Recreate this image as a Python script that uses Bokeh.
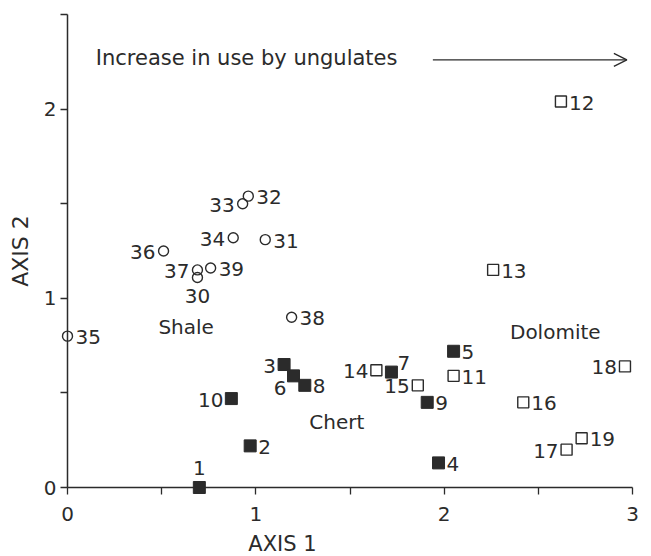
from bokeh.plotting import figure
from bokeh.models import ColumnDataSource, Range1d, FixedTicker, Arrow, OpenHead
from bokeh.core.properties import value
from bokeh.embed import file_html
from bokeh.resources import INLINE

# ---- data ----
chert_ids = ["1", "2", "3", "4", "5", "6", "7", "8", "9", "10"]
chert_x = [0.70, 0.97, 1.15, 1.97, 2.05, 1.20, 1.72, 1.26, 1.91, 0.87]
chert_y = [0.00, 0.22, 0.65, 0.13, 0.72, 0.59, 0.61, 0.54, 0.45, 0.47]
chert_pos = ["a", "r", "l", "r", "r", "bl", "ur", "r", "r", "l"]

dolomite_ids = ["11", "12", "13", "14", "15", "16", "17", "18", "19"]
dolomite_x = [2.05, 2.62, 2.26, 1.64, 1.86, 2.42, 2.65, 2.96, 2.73]
dolomite_y = [0.59, 2.04, 1.15, 0.62, 0.54, 0.45, 0.20, 0.64, 0.26]
dolomite_pos = ["r", "r", "r", "l", "l", "r", "l", "l", "r"]

shale_ids = ["30", "31", "32", "33", "34", "35", "36", "37", "38", "39"]
shale_x = [0.69, 1.05, 0.96, 0.93, 0.88, 0.00, 0.51, 0.69, 1.19, 0.76]
shale_y = [1.11, 1.31, 1.54, 1.50, 1.32, 0.80, 1.25, 1.15, 0.90, 1.16]
shale_pos = ["b", "r", "r", "l", "l", "r", "l", "l", "r", "r"]

region_names = ["Shale", "Chert", "Dolomite"]
region_x = [0.63, 1.43, 2.59]
region_y = [0.85, 0.345, 0.82]

arrow_text = "Increase in use by ungulates"
arrow_text_x = 0.15
arrow_text_y = 2.27
arrow_x_start, arrow_x_end, arrow_y = 1.94, 2.97, 2.26

x_ticks = [0, 1, 2, 3]
x_minor = [0.5, 1.5, 2.5]
y_ticks = [0, 1, 2]
y_minor = [0.5, 1.5, 2.5]
x_title = "AXIS 1"
x_title_at = 0.96   # the reference sets its x-axis title off-centre
y_title = "AXIS 2"

INK = "#2b2b2b"
FONT = "DejaVu Sans"

# label placement styles: (x_offset, y_offset, align)
PLACE = {
    "r": (8, 1, "left"),
    "l": (-8, 1, "right"),
    "a": (0, -20, "center"),
    "b": (0, 19, "center"),
    "bl": (-7, 12, "right"),
    "ur": (6, -9, "left"),
}


def label_source(ids, xs, ys, pos):
    return ColumnDataSource(dict(
        x=xs, y=ys, t=ids,
        xo=[PLACE[p][0] for p in pos],
        yo=[PLACE[p][1] for p in pos],
        al=[PLACE[p][2] for p in pos],
    ))


p = figure(width=651, height=556, output_backend="svg", toolbar_location=None,
           x_range=Range1d(0, 3), y_range=Range1d(0, 2.5),
           min_border_left=67, min_border_right=19, min_border_top=14,
           min_border_bottom=69)
p.outline_line_color = None
p.grid.visible = False
p.background_fill_color = "white"
p.border_fill_color = "white"

for ax, ticks, minor in ((p.xaxis[0], x_ticks, x_minor),
                         (p.yaxis[0], y_ticks, y_minor)):
    ax.ticker = FixedTicker(ticks=ticks, minor_ticks=minor)
    ax.axis_line_color = INK
    ax.axis_line_width = 1.5
    ax.major_tick_line_color = INK
    ax.minor_tick_line_color = INK
    ax.major_tick_line_width = 1.3
    ax.minor_tick_line_width = 1.3
    ax.major_tick_in = 0
    ax.major_tick_out = 7
    ax.minor_tick_in = 0
    ax.minor_tick_out = 7
    ax.major_label_text_font = FONT
    ax.major_label_text_font_size = "20px"
    ax.major_label_text_color = INK
    ax.axis_label_text_font = FONT
    ax.axis_label_text_font_size = "22px"
    ax.axis_label_text_font_style = "normal"
    ax.axis_label_text_color = INK
p.xaxis.major_label_standoff = 12
p.yaxis.major_label_standoff = 4
p.yaxis.axis_label = y_title
p.yaxis.axis_label_standoff = 8

# x-axis title, set off-centre below the axis as in the reference
p.text(x=[x_title_at], y=[0], text=[x_title], y_offset=56,
       text_align="left", text_baseline="middle", text_font=value(FONT),
       text_font_size="21px", text_color=INK, level="overlay")

# markers
p.scatter(chert_x, chert_y, marker="square", size=12,
          fill_color=INK, line_color=INK, level="overlay")
p.scatter(dolomite_x, dolomite_y, marker="square", size=11,
          fill_alpha=0, line_color=INK, line_width=1.4, level="overlay")
p.scatter(shale_x, shale_y, marker="circle", size=10,
          fill_alpha=0, line_color=INK, line_width=1.4, level="overlay")

# point labels
for ids, xs, ys, pos in ((chert_ids, chert_x, chert_y, chert_pos),
                         (dolomite_ids, dolomite_x, dolomite_y, dolomite_pos),
                         (shale_ids, shale_x, shale_y, shale_pos)):
    src = label_source(ids, xs, ys, pos)
    p.text(x="x", y="y", text="t", x_offset="xo", y_offset="yo",
           text_align="al", text_baseline="middle", source=src,
           text_font=value(FONT), text_font_size="20px", text_color=INK,
           level="overlay")

# region labels
p.text(x=region_x, y=region_y, text=region_names, text_align="center",
       text_baseline="middle", text_font=value(FONT), text_font_size="20px",
       text_color=INK)

# arrow annotation
p.text(x=[arrow_text_x], y=[arrow_text_y], text=[arrow_text],
       text_align="left", text_baseline="middle", text_font=value(FONT),
       text_font_size="21px", text_color=INK)
p.add_layout(Arrow(end=OpenHead(size=13, line_width=1.4, line_color=INK),
                   x_start=arrow_x_start, y_start=arrow_y,
                   x_end=arrow_x_end, y_end=arrow_y,
                   line_color=INK, line_width=1.4))

open("out.html", "w").write(file_html(p, INLINE))
